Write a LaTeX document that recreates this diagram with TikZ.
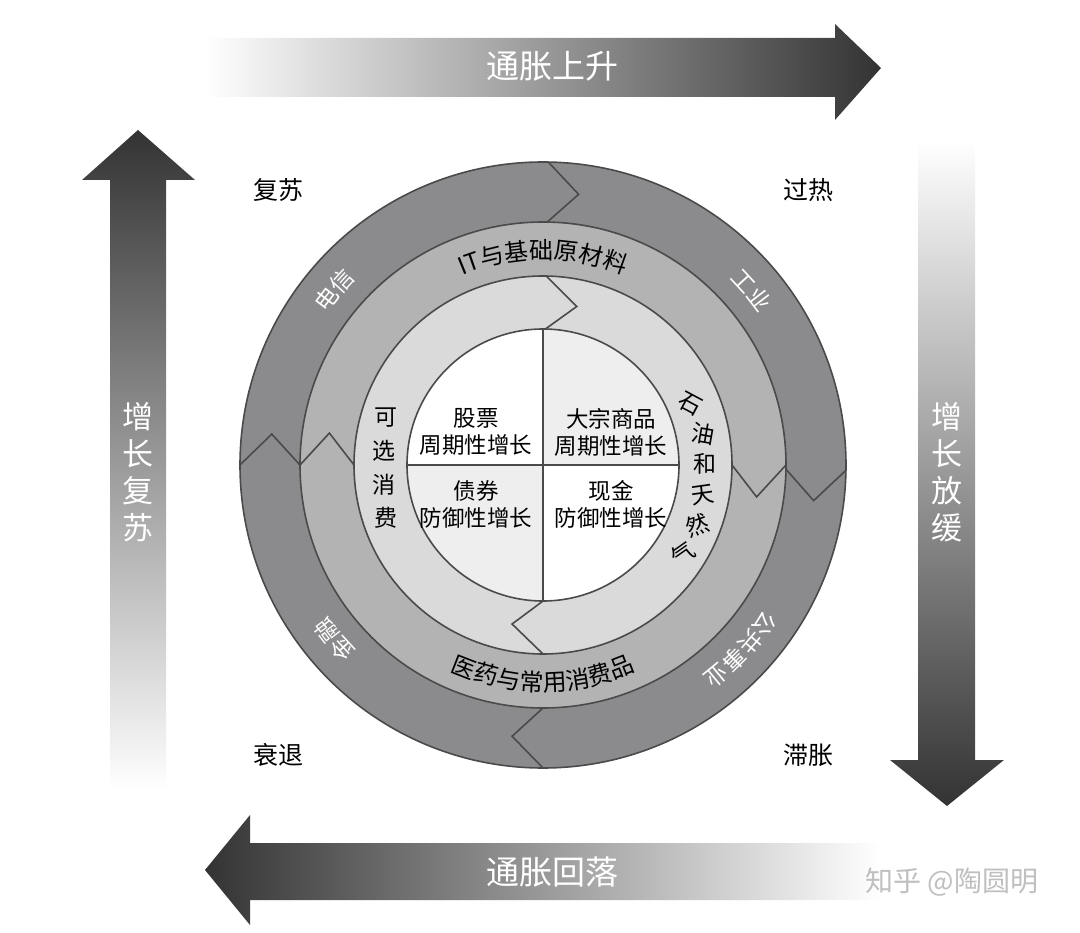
\documentclass[tikz,border=0pt]{standalone}
\usepackage{fontspec}
\newfontfamily\cjk{Noto Sans CJK SC}
\usetikzlibrary{decorations.text}
\definecolor{outerg}{HTML}{8B8B8D}
\definecolor{midg}{HTML}{B3B3B3}
\definecolor{inng}{HTML}{DADADA}
\definecolor{quadg}{HTML}{EEEEEE}
\definecolor{lineg}{HTML}{4A4A4A}
\tikzset{
  ring/.style={draw=lineg,line width=1.6pt},
  chev/.style={draw=lineg,line width=1.6pt,line join=miter},
  corner/.style={font=\cjk\fontsize{25}{25}\selectfont,text=black},
  arrowtxt/.style={font=\cjk\fontsize{33}{33}\selectfont,text=white},
  vtxt/.style={font=\cjk\fontsize{31}{37}\selectfont,text=white,align=center},
  quad/.style={font=\cjk\fontsize{22.5}{27}\selectfont,text=black,align=center},
  inch/.style={font=\cjk\fontsize{23}{23}\selectfont,text=black},
}
\begin{document}
\begin{tikzpicture}[x=1pt,y=-1pt]
\useasboundingbox (0,0) rectangle (1080,933);
% big arrows
\shade[left color=white,right color=black!80] (205,38) -- (835,38) -- (835,24) -- (881,68) -- (835,120) -- (835,97) -- (205,97) -- cycle;
\shade[top color=white,bottom color=black!80] (918,140) -- (975,140) -- (975,760) -- (1004,760) -- (947,806) -- (890,760) -- (918,760) -- cycle;
\shade[top color=black!80,bottom color=white] (110,790) -- (110,180) -- (82,180) -- (138,130) -- (195,180) -- (166,180) -- (166,790) -- cycle;
\shade[left color=black!80,right color=white] (880,843) -- (250,843) -- (250,815) -- (205,870) -- (250,925) -- (250,900) -- (880,900) -- cycle;
\node[arrowtxt] (up) at (552,66) {通胀上升};
\node[arrowtxt] (down) at (552,872) {通胀回落};
\node[vtxt] (gr) at (138,472) {增\\长\\复\\苏};
\node[vtxt] (gs) at (947,472) {增\\长\\放\\缓};
\node[corner] (c1) at (278,190) {复苏};
\node[corner] (c2) at (808,190) {过热};
\node[corner] (c3) at (278,755) {衰退};
\node[corner] (c4) at (808,755) {滞胀};
\node[font=\cjk\fontsize{28}{28}\selectfont,text=black!25] (wm) at (952,882) {知乎 @陶圆明};
\begin{scope}[shift={(543,465)},y=1pt]
  \fill[outerg] (0,0) circle[radius=303];
  \fill[midg] (0,0) circle[radius=243];
  \fill[inng] (0,0) circle[radius=189];
  \fill[white] (0,0) circle[radius=136];
  \fill[quadg] (0,0) -- (0,136) arc[start angle=90,end angle=0,radius=136] -- cycle;
  \fill[quadg] (0,0) -- (0,-136) arc[start angle=270,end angle=180,radius=136] -- cycle;
  \draw[ring] (0,0) circle[radius=303];
  \draw[ring] (0,0) circle[radius=243];
  \draw[ring] (0,0) circle[radius=189];
  \draw[ring] (0,0) circle[radius=136];
  \draw[ring] (0,136) -- (0,-136) (-136,0) -- (136,0);
  \foreach \a in {89,-1,270,180}{
    \draw[chev] (\a:303) -- (\a-6.5:273) -- (\a:243);}
  \foreach \a in {180,0}{
    \draw[chev] (\a:243) -- (\a-8.5:216) -- (\a:189);}
  \foreach \a in {89,270}{
    \draw[chev] (\a:189) -- (\a-11:162) -- (\a:136);}
  \path[decorate,decoration={text along path,text align=center,
    text={|\cjk\fontsize{24}{24}\selectfont|IT与基础原材料}}]
    (140:206) arc[start angle=140,end angle=40,radius=206];
  \path[decorate,decoration={text along path,text align=center,
    text={|\cjk\fontsize{24}{24}\selectfont|医药与常用消费品}}]
    (225:226) arc[start angle=225,end angle=315,radius=226];
  \path[decorate,decoration={text along path,text align=center,
    text={|\cjk\fontsize{23}{23}\selectfont\color{white}|电信}}]
    (160:264) arc[start angle=160,end angle=120,radius=264];
  \path[decorate,decoration={text along path,text align=center,
    text={|\cjk\fontsize{23}{23}\selectfont\color{white}|工业}}]
    (60:264) arc[start angle=60,end angle=20,radius=264];
  \path[decorate,decoration={text along path,text align=center,
    text={|\cjk\fontsize{23}{23}\selectfont\color{white}|公共事业}}]
    (-5:264) arc[start angle=-5,end angle=-81,radius=264];
  \path[decorate,decoration={text along path,text align=center,
    text={|\cjk\fontsize{23}{23}\selectfont\color{white}|金融}}]
    (240:264) arc[start angle=240,end angle=200,radius=264];
\end{scope}
\node[quad] (q1) at (476,432) {股票\\周期性增长};
\node[quad] (q2) at (611,432) {大宗商品\\周期性增长};
\node[quad] (q3) at (476,504) {债券\\防御性增长};
\node[quad] (q4) at (611,504) {现金\\防御性增长};
\node[inch] (k1) at (386,418) {可};
\node[inch] (k2) at (384,451) {选};
\node[inch] (k3) at (384,485) {消};
\node[inch] (k4) at (386,518) {费};
\node[inch,rotate=-28] (s1) at (690,404) {石};
\node[inch,rotate=-10] (s2) at (703,434) {油};
\node[inch] (s3) at (705,464) {和};
\node[inch,rotate=8] (s4) at (703,495) {天};
\node[inch,rotate=20] (s5) at (697,525) {然};
\node[inch,rotate=35] (s6) at (683,554) {气};
\end{tikzpicture}
\end{document}
